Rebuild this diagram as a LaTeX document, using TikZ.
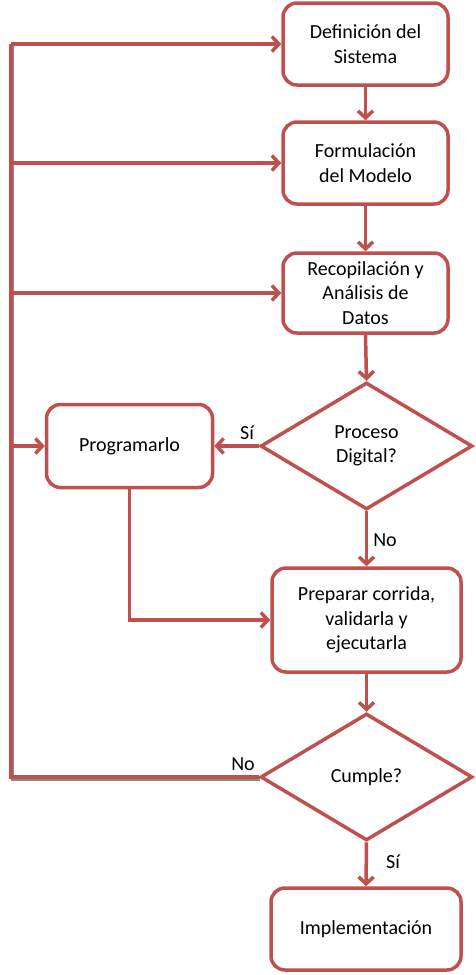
\documentclass[tikz,border=0pt]{standalone}
\usepackage{fontspec}
\setmainfont{Carlito}
\usetikzlibrary{shapes.geometric,arrows.meta}
\definecolor{cred}{HTML}{C0504D}
\begin{document}
\begin{tikzpicture}[x=1pt,y=-1pt,
  box/.style={draw=cred,line width=3.5pt,rounded corners=14pt,fill=white,align=center,
    font=\fontsize{20}{24.5}\selectfont,inner sep=0pt},
  dia/.style={draw=cred,line width=3.5pt,diamond,fill=white,align=center,
    font=\fontsize{20}{24.5}\selectfont,inner sep=0pt,minimum width=212pt,minimum height=127pt},
  arr/.style={draw=cred,line width=3.5pt,-{Straight Barb[length=7pt,width=15pt,line width=3.5pt]}},
  ln/.style={draw=cred,line width=3.5pt},
  lbl/.style={font=\fontsize{20}{22}\selectfont}]
\useasboundingbox (0,0) rectangle (475,975);
\node[box,minimum width=165pt,minimum height=82pt] (b1) at (365.5,44) {Definición del\\Sistema};
\node[box,minimum width=165pt,minimum height=82pt] (b2) at (365.5,163) {Formulación\\del Modelo};
\node[box,minimum width=165pt,minimum height=80pt] (b3) at (365.5,293) {Recopilación y\\Análisis de\\Datos};
\node[dia] (d1) at (366.5,446) {Proceso\\Digital?};
\node[box,minimum width=166pt,minimum height=83pt] (prog) at (129.5,446) {Programarlo};
\node[box,minimum width=189pt,minimum height=104pt] (prep) at (366.5,620) {Preparar corrida,\\validarla y\\ejecutarla};
\node[dia] (d2) at (366.5,777) {Cumple?};
\node[box,minimum width=190pt,minimum height=82pt] (impl) at (366,929) {Implementación};
\coordinate (ltop) at (11,44);
\coordinate (lbot) at (11,777);
% shadow of feedback line
\draw[line width=3.5pt,black,opacity=0.45] ([xshift=1.5pt,yshift=-2.5pt]d2.west) -- ([xshift=1.5pt,yshift=-2.5pt]lbot) -- ([xshift=1.5pt]ltop);
\draw[ln,line join=miter] (d2.west) -- (lbot) -- (ltop);
\draw[arr] (ltop) -- (b1.west);
\draw[arr] (ltop |- b2.west) -- (b2.west);
\draw[arr] (ltop |- b3.west) -- (b3.west);
\draw[arr] (ltop |- prog.west) -- (prog.west);
\draw[arr] (b1.south) -- (b2.north);
\draw[arr] (b2.south) -- (b3.north);
\draw[arr] (b3.south) -- (d1.north);
\draw[arr] (d1.west) -- (prog.east);
\draw[arr] (d1.south) -- (prep.north);
\draw[arr] (prog.south) |- (prep.west);
\draw[arr] (prep.south) -- (d2.north);
\draw[arr] (d2.south) -- (impl.north);
\node[lbl] (s1) at (247,433) {Sí};
\node[lbl] (n1) at (385,540) {No};
\node[lbl] (n2) at (243,764) {No};
\node[lbl] (s2) at (393,862) {Sí};
\end{tikzpicture}
\end{document}
